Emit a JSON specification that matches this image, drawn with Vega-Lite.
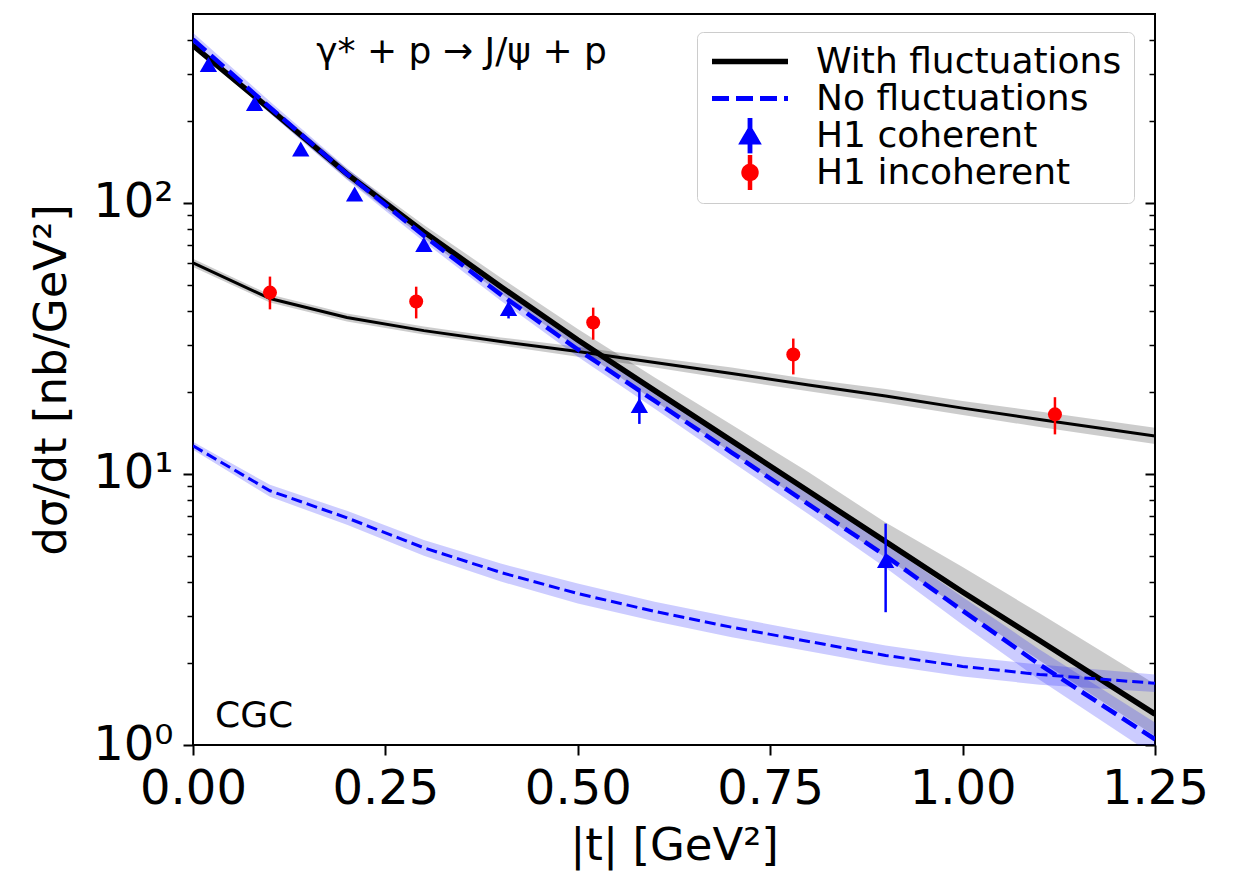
{
  "$schema": "https://vega.github.io/schema/vega-lite/v6.json",
  "width": 962,
  "height": 731,
  "autosize": {"type": "none"},
  "padding": {"left": 193, "top": 14, "right": 83, "bottom": 128},
  "background": "white",
  "config": {
    "font": "DejaVu Sans",
    "view": {"stroke": "black", "strokeWidth": 2},
    "axis": {"labelFont": "DejaVu Sans", "titleFont": "DejaVu Sans", "labelColor": "black", "titleColor": "black", "tickColor": "black", "grid": false, "domain": false, "titleFontWeight": "normal"},
    "text": {"font": "DejaVu Sans", "color": "black"}
  },
  "datasets": {
    "curves": [
      {"t": 0.0, "series": "With fluctuations", "process": "coherent", "y": 381, "lo": 371.4, "hi": 390.8},
      {"t": 0.1, "series": "With fluctuations", "process": "coherent", "y": 222, "lo": 214.6, "hi": 229.7},
      {"t": 0.2, "series": "With fluctuations", "process": "coherent", "y": 128, "lo": 122.7, "hi": 133.6},
      {"t": 0.3, "series": "With fluctuations", "process": "coherent", "y": 78.2, "lo": 74.3, "hi": 83.0},
      {"t": 0.4, "series": "With fluctuations", "process": "coherent", "y": 49.1, "lo": 46.3, "hi": 53.0},
      {"t": 0.5, "series": "With fluctuations", "process": "coherent", "y": 31.2, "lo": 29.1, "hi": 34.3},
      {"t": 0.6, "series": "With fluctuations", "process": "coherent", "y": 20.3, "lo": 18.6, "hi": 22.7},
      {"t": 0.7, "series": "With fluctuations", "process": "coherent", "y": 13.25, "lo": 11.97, "hi": 15.18},
      {"t": 0.8, "series": "With fluctuations", "process": "coherent", "y": 8.63, "lo": 7.66, "hi": 10.14},
      {"t": 0.9, "series": "With fluctuations", "process": "coherent", "y": 5.63, "lo": 4.91, "hi": 6.62},
      {"t": 1.0, "series": "With fluctuations", "process": "coherent", "y": 3.67, "lo": 3.15, "hi": 4.54},
      {"t": 1.1, "series": "With fluctuations", "process": "coherent", "y": 2.43, "lo": 2.05, "hi": 3.06},
      {"t": 1.25, "series": "With fluctuations", "process": "coherent", "y": 1.30, "lo": 1.08, "hi": 1.68},
      {"t": 0.0, "series": "No fluctuations", "process": "coherent", "y": 401, "lo": 378, "hi": 425},
      {"t": 0.1, "series": "No fluctuations", "process": "coherent", "y": 225, "lo": 214, "hi": 237},
      {"t": 0.2, "series": "No fluctuations", "process": "coherent", "y": 128, "lo": 121.7, "hi": 134.7},
      {"t": 0.3, "series": "No fluctuations", "process": "coherent", "y": 75.7, "lo": 72.0, "hi": 79.6},
      {"t": 0.4, "series": "No fluctuations", "process": "coherent", "y": 45.9, "lo": 43.6, "hi": 48.3},
      {"t": 0.5, "series": "No fluctuations", "process": "coherent", "y": 28.8, "lo": 27.1, "hi": 30.6},
      {"t": 0.6, "series": "No fluctuations", "process": "coherent", "y": 18.6, "lo": 17.4, "hi": 19.9},
      {"t": 0.7, "series": "No fluctuations", "process": "coherent", "y": 12.0, "lo": 11.1, "hi": 12.9},
      {"t": 0.8, "series": "No fluctuations", "process": "coherent", "y": 7.73, "lo": 7.10, "hi": 8.41},
      {"t": 0.9, "series": "No fluctuations", "process": "coherent", "y": 4.99, "lo": 4.51, "hi": 5.52},
      {"t": 1.0, "series": "No fluctuations", "process": "coherent", "y": 3.13, "lo": 2.78, "hi": 3.52},
      {"t": 1.1, "series": "No fluctuations", "process": "coherent", "y": 1.98, "lo": 1.74, "hi": 2.25},
      {"t": 1.25, "series": "No fluctuations", "process": "coherent", "y": 1.05, "lo": 0.91, "hi": 1.21},
      {"t": 0.0, "series": "With fluctuations", "process": "incoherent", "y": 60.1, "lo": 58.1, "hi": 62.2},
      {"t": 0.1, "series": "With fluctuations", "process": "incoherent", "y": 44.4, "lo": 42.9, "hi": 45.9},
      {"t": 0.2, "series": "With fluctuations", "process": "incoherent", "y": 37.8, "lo": 36.5, "hi": 39.1},
      {"t": 0.3, "series": "With fluctuations", "process": "incoherent", "y": 33.8, "lo": 32.7, "hi": 35.0},
      {"t": 0.4, "series": "With fluctuations", "process": "incoherent", "y": 30.8, "lo": 29.8, "hi": 31.9},
      {"t": 0.5, "series": "With fluctuations", "process": "incoherent", "y": 28.3, "lo": 27.1, "hi": 29.5},
      {"t": 0.6, "series": "With fluctuations", "process": "incoherent", "y": 25.8, "lo": 24.7, "hi": 26.9},
      {"t": 0.7, "series": "With fluctuations", "process": "incoherent", "y": 23.5, "lo": 22.3, "hi": 24.7},
      {"t": 0.8, "series": "With fluctuations", "process": "incoherent", "y": 21.3, "lo": 20.2, "hi": 22.4},
      {"t": 0.9, "series": "With fluctuations", "process": "incoherent", "y": 19.4, "lo": 18.3, "hi": 20.6},
      {"t": 1.0, "series": "With fluctuations", "process": "incoherent", "y": 17.5, "lo": 16.5, "hi": 18.6},
      {"t": 1.1, "series": "With fluctuations", "process": "incoherent", "y": 15.9, "lo": 14.9, "hi": 17.0},
      {"t": 1.25, "series": "With fluctuations", "process": "incoherent", "y": 13.8, "lo": 12.9, "hi": 14.8},
      {"t": 0.0, "series": "No fluctuations", "process": "incoherent", "y": 12.7, "lo": 12.28, "hi": 13.14},
      {"t": 0.1, "series": "No fluctuations", "process": "incoherent", "y": 8.67, "lo": 8.24, "hi": 9.12},
      {"t": 0.2, "series": "No fluctuations", "process": "incoherent", "y": 6.89, "lo": 6.49, "hi": 7.31},
      {"t": 0.3, "series": "No fluctuations", "process": "incoherent", "y": 5.34, "lo": 4.99, "hi": 5.71},
      {"t": 0.4, "series": "No fluctuations", "process": "incoherent", "y": 4.33, "lo": 4.01, "hi": 4.67},
      {"t": 0.5, "series": "No fluctuations", "process": "incoherent", "y": 3.62, "lo": 3.33, "hi": 3.94},
      {"t": 0.6, "series": "No fluctuations", "process": "incoherent", "y": 3.11, "lo": 2.86, "hi": 3.38},
      {"t": 0.7, "series": "No fluctuations", "process": "incoherent", "y": 2.72, "lo": 2.5, "hi": 2.96},
      {"t": 0.8, "series": "No fluctuations", "process": "incoherent", "y": 2.41, "lo": 2.22, "hi": 2.62},
      {"t": 0.9, "series": "No fluctuations", "process": "incoherent", "y": 2.14, "lo": 1.97, "hi": 2.33},
      {"t": 1.0, "series": "No fluctuations", "process": "incoherent", "y": 1.95, "lo": 1.79, "hi": 2.12},
      {"t": 1.1, "series": "No fluctuations", "process": "incoherent", "y": 1.82, "lo": 1.67, "hi": 1.98},
      {"t": 1.25, "series": "No fluctuations", "process": "incoherent", "y": 1.69, "lo": 1.57, "hi": 1.82}
    ],
    "points": [
      {"t": 0.02, "series": "H1 coherent", "y": 324, "lo": 312, "hi": 336},
      {"t": 0.08, "series": "H1 coherent", "y": 233, "lo": 225, "hi": 241},
      {"t": 0.14, "series": "H1 coherent", "y": 158, "lo": 152, "hi": 164},
      {"t": 0.21, "series": "H1 coherent", "y": 108, "lo": 104, "hi": 112},
      {"t": 0.30, "series": "H1 coherent", "y": 70.2, "lo": 67, "hi": 73.5},
      {"t": 0.41, "series": "H1 coherent", "y": 40.8, "lo": 37.5, "hi": 43.6},
      {"t": 0.58, "series": "H1 coherent", "y": 17.9, "lo": 15.3, "hi": 20.6},
      {"t": 0.90, "series": "H1 coherent", "y": 4.79, "lo": 3.09, "hi": 6.56},
      {"t": 0.10, "series": "H1 incoherent", "y": 46.7, "lo": 40.5, "hi": 53.5},
      {"t": 0.29, "series": "H1 incoherent", "y": 43.3, "lo": 37.5, "hi": 49.1},
      {"t": 0.52, "series": "H1 incoherent", "y": 36.2, "lo": 31.3, "hi": 41.1},
      {"t": 0.78, "series": "H1 incoherent", "y": 27.6, "lo": 23.3, "hi": 31.6},
      {"t": 1.12, "series": "H1 incoherent", "y": 16.6, "lo": 14.0, "hi": 19.2}
    ],
    "reaction": [{"t": 0.349, "y": 361, "label": "γ* + p → J/ψ + p"}],
    "model": [{"t": 0.0286, "y": 1.28, "label": "CGC"}]
  },
  "layer": [
    {
      "layer": [
        {
          "data": {"name": "curves"},
          "transform": [{"filter": "datum.series === 'With fluctuations'"}],
          "mark": {"type": "area", "color": "#000000", "opacity": 0.2, "clip": true},
          "encoding": {
            "x": {
              "field": "t", "type": "quantitative",
              "scale": {"domain": [0, 1.25], "nice": false, "zero": false},
              "axis": {"values": [0, 0.25, 0.5, 0.75, 1.0, 1.25], "format": ".2f", "labelFontSize": 48, "tickSize": 10, "tickWidth": 2, "labelPadding": 10, "labelFlush": false, "labelOverlap": false, "title": "|t| [GeV²]", "titleFontSize": 45, "titlePadding": 10}
            },
            "y": {
              "field": "lo", "type": "quantitative",
              "scale": {"type": "log", "domain": [1, 498], "nice": false},
              "axis": {
                "values": [1, 2, 3, 4, 5, 6, 7, 8, 9, 10, 20, 30, 40, 50, 60, 70, 80, 90, 100, 200, 300, 400],
                "labelExpr": "datum.value == 1 ? '10⁰' : datum.value == 10 ? '10¹' : datum.value == 100 ? '10²' : ''",
                "labelFontSize": 48, "labelPadding": 10, "labelOverlap": false, "labelFlush": false,
                "tickSize": {"condition": {"test": "datum.value == 1 || datum.value == 10 || datum.value == 100", "value": 10}, "value": 6},
                "tickWidth": {"condition": {"test": "datum.value == 1 || datum.value == 10 || datum.value == 100", "value": 2}, "value": 1.5},
                "title": "dσ/dt [nb/GeV²]", "titleFontSize": 45, "titlePadding": 18
              }
            },
            "y2": {"field": "hi"},
            "detail": {"field": "process"}
          }
        },
        {
          "data": {"name": "curves"},
          "transform": [{"filter": "datum.series === 'No fluctuations'"}],
          "mark": {"type": "area", "color": "#0000ff", "opacity": 0.2, "clip": true},
          "encoding": {
            "x": {"field": "t", "type": "quantitative"},
            "y": {"field": "lo", "type": "quantitative"},
            "y2": {"field": "hi"},
            "detail": {"field": "process"}
          }
        },
        {
          "data": {"name": "curves"},
          "transform": [{"filter": "datum.series === 'With fluctuations' && datum.process === 'coherent'"}],
          "mark": {"type": "line", "clip": true, "color": "#000000", "strokeWidth": 5.5},
          "encoding": {
            "x": {"field": "t", "type": "quantitative"},
            "y": {"field": "y", "type": "quantitative"}
          }
        },
        {
          "data": {"name": "curves"},
          "transform": [{"filter": "datum.series === 'With fluctuations' && datum.process === 'incoherent'"}],
          "mark": {"type": "line", "clip": true, "color": "#000000", "strokeWidth": 3},
          "encoding": {
            "x": {"field": "t", "type": "quantitative"},
            "y": {"field": "y", "type": "quantitative"}
          }
        },
        {
          "data": {"name": "curves"},
          "transform": [{"filter": "datum.series === 'No fluctuations' && datum.process === 'coherent'"}],
          "mark": {"type": "line", "clip": true, "color": "#0000ff", "strokeWidth": 4.5, "strokeDash": [17, 7]},
          "encoding": {
            "x": {"field": "t", "type": "quantitative"},
            "y": {"field": "y", "type": "quantitative"}
          }
        },
        {
          "data": {"name": "curves"},
          "transform": [{"filter": "datum.series === 'No fluctuations' && datum.process === 'incoherent'"}],
          "mark": {"type": "line", "clip": true, "color": "#0000ff", "strokeWidth": 3, "strokeDash": [11, 5]},
          "encoding": {
            "x": {"field": "t", "type": "quantitative"},
            "y": {"field": "y", "type": "quantitative"}
          }
        },
        {
          "data": {"name": "points"},
          "transform": [{"filter": "datum.series === 'H1 coherent'"}],
          "mark": {"type": "rule", "strokeWidth": 2.5, "color": "#0000ff", "clip": true},
          "encoding": {
            "x": {"field": "t", "type": "quantitative"},
            "y": {"field": "lo", "type": "quantitative"},
            "y2": {"field": "hi"}
          }
        },
        {
          "data": {"name": "points"},
          "transform": [{"filter": "datum.series === 'H1 incoherent'"}],
          "mark": {"type": "rule", "strokeWidth": 2.5, "color": "#ff0000", "clip": true},
          "encoding": {
            "x": {"field": "t", "type": "quantitative"},
            "y": {"field": "lo", "type": "quantitative"},
            "y2": {"field": "hi"}
          }
        },
        {
          "data": {"name": "points"},
          "transform": [{"filter": "datum.series === 'H1 coherent'"}],
          "mark": {"type": "point", "shape": "triangle-up", "filled": true, "color": "#0000ff", "opacity": 1, "size": 300},
          "encoding": {
            "x": {"field": "t", "type": "quantitative"},
            "y": {"field": "y", "type": "quantitative"}
          }
        },
        {
          "data": {"name": "points"},
          "transform": [{"filter": "datum.series === 'H1 incoherent'"}],
          "mark": {"type": "point", "shape": "circle", "filled": true, "color": "#ff0000", "opacity": 1, "size": 196},
          "encoding": {
            "x": {"field": "t", "type": "quantitative"},
            "y": {"field": "y", "type": "quantitative"}
          }
        },
        {
          "data": {"name": "points"},
          "transform": [{"filter": "false"}],
          "mark": {"type": "point", "opacity": 1},
          "encoding": {
            "x": {"field": "t", "type": "quantitative"},
            "y": {"field": "y", "type": "quantitative"},
            "shape": {
              "field": "series", "type": "nominal",
              "scale": {"domain": ["With fluctuations", "No fluctuations", "H1 coherent", "H1 incoherent"], "range": ["stroke", "stroke", "M0,-0.48L0,0.48M0,-0.17L0.2,0.17L-0.2,0.17Z", "M-0.17,0A0.17,0.17,0,1,0,0.17,0A0.17,0.17,0,1,0,-0.17,0ZM0,-0.46L0,0.46"]},
              "legend": {
                "title": null, "orient": "none", "legendX": 504, "legendY": 18,
                "padding": 12, "clipHeight": 35, "rowPadding": 0,
                "symbolSize": 5776, "symbolOffset": 0, "symbolOpacity": 1,
                "labelOffset": 25, "labelFontSize": 36, "labelFont": "DejaVu Sans", "labelColor": "black", "labelLimit": 600,
                "strokeColor": "#cccccc", "fillColor": "rgba(255,255,255,0.8)", "cornerRadius": 6
              }
            },
            "fill": {
              "field": "series", "type": "nominal",
              "scale": {"domain": ["With fluctuations", "No fluctuations", "H1 coherent", "H1 incoherent"], "range": ["transparent", "transparent", "#0000ff", "#ff0000"]}
            },
            "stroke": {
              "field": "series", "type": "nominal",
              "scale": {"domain": ["With fluctuations", "No fluctuations", "H1 coherent", "H1 incoherent"], "range": ["#000000", "#0000ff", "#0000ff", "#ff0000"]}
            },
            "strokeDash": {
              "field": "series", "type": "nominal",
              "scale": {"domain": ["With fluctuations", "No fluctuations", "H1 coherent", "H1 incoherent"], "range": [[1, 0], [17, 7], [1, 0], [1, 0]]}
            },
            "strokeWidth": {
              "field": "series", "type": "nominal",
              "scale": {"domain": ["With fluctuations", "No fluctuations", "H1 coherent", "H1 incoherent"], "range": [5.5, 4.5, 2.5, 2.5]}
            }
          }
        },
        {
          "data": {"name": "reaction"},
          "mark": {"type": "text", "fontSize": 36, "align": "center", "baseline": "middle"},
          "encoding": {
            "x": {"field": "t", "type": "quantitative"},
            "y": {"field": "y", "type": "quantitative"},
            "text": {"field": "label"}
          }
        },
        {
          "data": {"name": "model"},
          "mark": {"type": "text", "fontSize": 36, "align": "left", "baseline": "middle"},
          "encoding": {
            "x": {"field": "t", "type": "quantitative"},
            "y": {"field": "y", "type": "quantitative"},
            "text": {"field": "label"}
          }
        }
      ]
    },
    {
      "data": {"name": "points"},
      "mark": {"type": "point", "opacity": 0},
      "encoding": {
        "x": {
          "field": "t", "type": "quantitative",
          "axis": {"values": [0, 0.25, 0.5, 0.75, 1.0, 1.25], "format": ".2f", "labelFontSize": 48, "tickSize": 10, "tickWidth": 2, "labelPadding": 10, "labelFlush": false, "labelOverlap": false, "title": "|t| [GeV²]", "titleFontSize": 45, "titlePadding": 10}
        },
        "y": {
          "field": "y", "type": "quantitative",
          "axis": {
            "orient": "right", "labels": false, "title": null,
            "values": [1, 2, 3, 4, 5, 6, 7, 8, 9, 10, 20, 30, 40, 50, 60, 70, 80, 90, 100, 200, 300, 400],
            "tickSize": {"condition": {"test": "datum.value == 1 || datum.value == 10 || datum.value == 100", "value": -10}, "value": -6},
            "tickWidth": {"condition": {"test": "datum.value == 1 || datum.value == 10 || datum.value == 100", "value": 2}, "value": 1.5}
          }
        }
      }
    }
  ],
  "resolve": {"axis": {"y": "independent"}}
}
